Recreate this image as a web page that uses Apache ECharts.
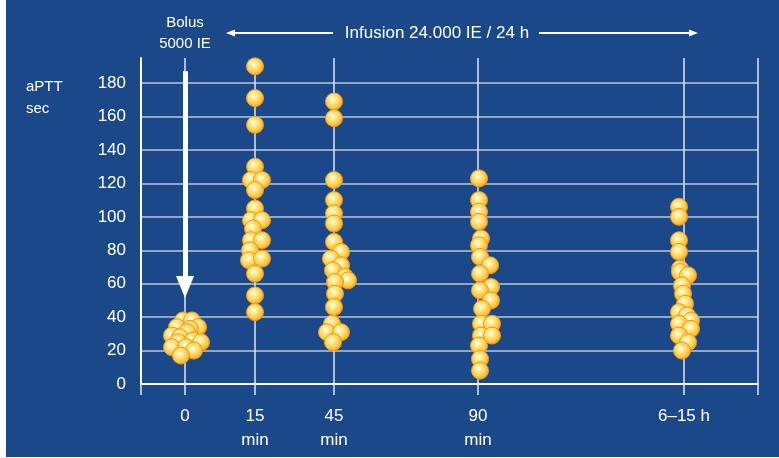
<!DOCTYPE html>
<html>
<head>
<meta charset="utf-8">
<script src="https://cdn.jsdelivr.net/npm/echarts@6/dist/echarts.min.js"></script>
<style>
  html, body { margin: 0; padding: 0; background: #fff; }
  #wrap { position: relative; width: 779px; height: 458px; background: #fff; }
  #chart { position: absolute; left: 6px; top: 0; width: 773px; height: 457px; }
</style>
</head>
<body>
<div id="wrap"><div id="chart"></div></div>
<script>
// time slots on the x axis (axis units), and their labels
const slotLabels = ['0', '15\nmin', '45\nmin', '90\nmin', '6–15 h']
const slotPos = [44, 114, 193, 337, 543]
const xEnd = 617

// aPTT (sec) per slot: [horizontal jitter, value]
const bolus0 = [[-2, 38], [7, 38], [-8, 34], [13, 34], [5, 33], [-13, 29], [2, 31], [-5, 28],
  [8, 26], [16, 25], [-7, 25], [-13, 22], [1, 22], [9, 20], [-4, 17]]
const min15 = [[0, 190], [0, 171], [0, 155], [0, 130], [-4, 122], [7, 122], [0, 116], [0, 105],
  [-4, 98], [7, 98], [-2, 93], [-4, 86], [7, 86], [-5, 80], [-6, 74], [7, 75], [0, 66], [0, 53], [0, 43]]
const min45 = [[0, 169], [0, 159], [0, 122], [0, 110], [0, 102], [0, 96], [0, 85], [7, 79], [-3, 75],
  [7, 71], [-1, 68], [11, 64], [14, 62], [1, 61], [1, 54], [0, 46], [-2, 36], [-7, 31], [7, 31], [-1, 25]]
const min90 = [[1, 123], [1, 110], [1, 103], [1, 97], [3, 87], [1, 83], [2, 76], [12, 71], [2, 66],
  [13, 58], [2, 56], [13, 50], [4, 45], [3, 36], [14, 36], [3, 29], [14, 29], [1, 23], [2, 15], [2, 8]]
const h6to15 = [[-5, 106], [-5, 100], [-5, 86], [-5, 79], [-4, 69], [-4, 67], [4, 65], [-2, 59],
  [-1, 54], [1, 48], [-5, 43], [3, 41], [7, 38], [-5, 36], [7, 33], [-5, 29], [4, 25], [-2, 20]]

const yTicks = [0, 20, 40, 60, 80, 100, 120, 140, 160, 180]

const groups = [bolus0, min15, min45, min90, h6to15]
const points = []
groups.forEach((g, i) => {
  g.forEach(p => points.push([slotPos[i] + p[0], p[1]]))
})

const font = 'Liberation Sans, Arial, sans-serif'
const chart = echarts.init(document.getElementById('chart'))

chart.setOption({
  backgroundColor: '#1b4889',
  animation: false,
  textStyle: { fontFamily: font },
  grid: { left: 135, right: 21, top: 58, bottom: 73 },
  xAxis: {
    type: 'value',
    min: 0,
    max: xEnd,
    axisLine: { show: true, lineStyle: { color: '#fff', width: 2 } },
    axisTick: {
      show: true,
      length: 11,
      customValues: [0].concat(slotPos, [xEnd]),
      lineStyle: { color: '#dfe6f1', width: 1.5 }
    },
    axisLabel: {
      customValues: slotPos,
      color: '#fff',
      fontSize: 17,
      lineHeight: 24,
      margin: 20,
      formatter: v => slotLabels[slotPos.indexOf(v)] || ''
    },
    splitLine: { show: true, lineStyle: { color: '#dfe6f1', width: 1.5 } }
  },
  yAxis: {
    type: 'value',
    min: 0,
    max: 195,
    interval: 20,
    axisLine: { show: true, lineStyle: { color: '#fff', width: 2 } },
    axisTick: { show: false },
    axisLabel: {
      color: '#fff',
      fontSize: 17,
      margin: 15,
      showMaxLabel: false,
      formatter: v => (yTicks.indexOf(v) >= 0 ? String(v) : '')
    },
    splitLine: {
      show: true,
      showMaxLine: false,
      lineStyle: { color: '#b9c7de', width: 1.5 }
    }
  },
  graphic: [
    {
      type: 'text', left: 20, top: 76,
      style: { text: 'aPTT\nsec', fill: '#fff', font: '15px ' + font, lineHeight: 22 }
    },
    {
      type: 'text', x: 179, y: 33,
      style: { text: 'Bolus\n5000 IE', fill: '#fff', font: '15px ' + font, lineHeight: 21, align: 'center', verticalAlign: 'middle' }
    },
    {
      type: 'text', x: 431, y: 33,
      style: { text: 'Infusion 24.000 IE / 24 h', fill: '#fff', font: '17px ' + font, align: 'center', verticalAlign: 'middle' }
    },
    { type: 'line', shape: { x1: 226, y1: 33, x2: 327, y2: 33 }, style: { stroke: '#fff', lineWidth: 2 } },
    { type: 'polygon', shape: { points: [[220, 33], [229, 29.5], [229, 36.5]] }, style: { fill: '#fff' } },
    { type: 'line', shape: { x1: 533, y1: 33, x2: 686, y2: 33 }, style: { stroke: '#fff', lineWidth: 2 } },
    { type: 'polygon', shape: { points: [[692, 33], [683, 29.5], [683, 36.5]] }, style: { fill: '#fff' } }
  ],
  series: [{
    type: 'scatter',
    z: 10,
    data: points,
    symbolSize: 17,
    itemStyle: {
      opacity: 1,
      color: {
        type: 'radial', x: 0.42, y: 0.38, r: 0.6,
        colorStops: [
          { offset: 0, color: '#fffdf0' },
          { offset: 0.4, color: '#ffe477' },
          { offset: 0.85, color: '#fbbd3c' },
          { offset: 1, color: '#f2a01e' }
        ]
      },
      borderColor: '#ee9a1a',
      borderWidth: 1
    },
    markLine: {
      silent: true,
      symbol: ['none', 'triangle'],
      symbolSize: [18, 22],
      label: { show: false },
      lineStyle: { color: '#fff', width: 5, type: 'solid' },
      emphasis: { disabled: true },
      data: [[{ coord: [slotPos[0], 187] }, { coord: [slotPos[0], 58] }]]
    }
  }]
})
</script>
</body>
</html>
